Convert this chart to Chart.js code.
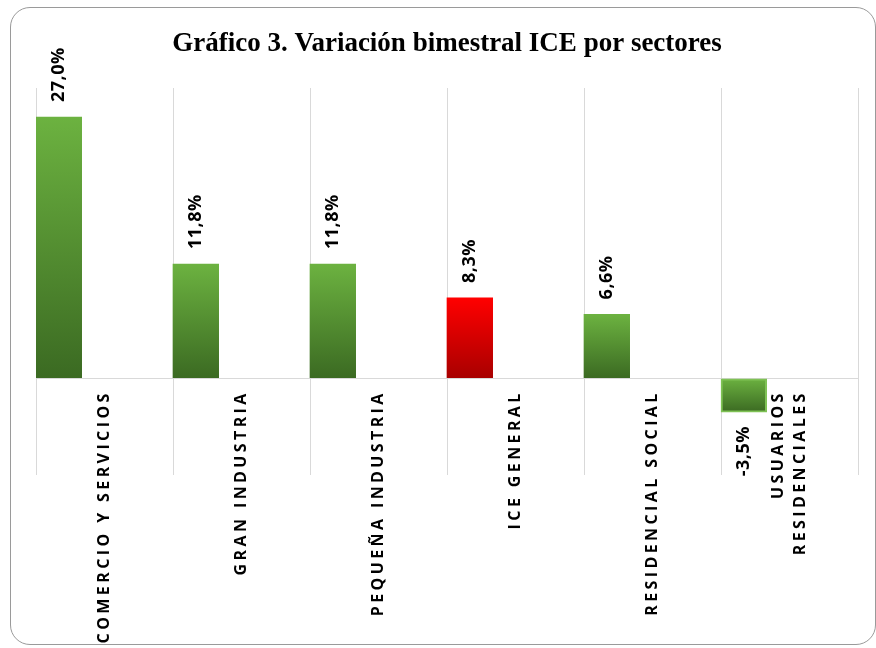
<!DOCTYPE html>
<html>
<head>
<meta charset="utf-8">
<script src="https://cdn.jsdelivr.net/npm/chart.js@4.4.0/dist/chart.umd.min.js"></script>
<style>
    html, body { margin: 0; padding: 0; background: #fff; }
    #wrap { position: relative; width: 876px; height: 648px; overflow: hidden; }
    #frame {
        position: absolute; left: 10px; top: 7px; width: 866px; height: 638px;
        border: 1px solid #9a9a9a; border-radius: 20px; box-sizing: border-box;
    }
    canvas { position: absolute; left: 0; top: 0; }
</style>
</head>
<body>
<div id="wrap">
    <div id="frame"></div>
    <canvas id="chart" width="876" height="648"></canvas>
</div>
<script>
// Data
const categories = [
    ['COMERCIO Y SERVICIOS'],
    ['GRAN INDUSTRIA'],
    ['PEQUEÑA INDUSTRIA'],
    ['ICE GENERAL'],
    ['RESIDENCIAL SOCIAL'],
    ['USUARIOS', 'RESIDENCIALES']
];
const variation = [27.0, 11.8, 11.8, 8.3, 6.6, -3.5];
const valueLabels = ['27,0%', '11,8%', '11,8%', '8,3%', '6,6%', '-3,5%'];
const highlight = [false, false, false, true, false, false];

const chartTitle = 'Gráfico 3. Variación bimestral ICE por sectores';

// vertical gradient per bar: light at top, dark at bottom
function barFill(context) {
    const chart = context.chart;
    const yScale = chart.scales.y;
    const i = context.dataIndex;
    const fallback = highlight[i] ? '#e00000' : '#5b9a35';
    if (!chart.chartArea || !yScale || i === undefined) return fallback;
    const v = variation[i];
    const top = yScale.getPixelForValue(Math.max(v, 0));
    const bottom = yScale.getPixelForValue(Math.min(v, 0));
    if (!isFinite(top) || !isFinite(bottom) || bottom - top < 1) return fallback;
    const g = chart.ctx.createLinearGradient(0, top, 0, bottom);
    if (highlight[i]) {
        g.addColorStop(0, '#ff0000');
        g.addColorStop(1, '#a80000');
    } else {
        g.addColorStop(0, '#6cb240');
        g.addColorStop(1, '#3b6a22');
    }
    return g;
}

// category labels under the zero line + rotated value labels
const labelsPlugin = {
    id: 'rotatedLabels',
    afterDatasetsDraw(chart) {
        const ctx = chart.ctx;
        const x = chart.scales.x;
        const y = chart.scales.y;
        const zero = y.getPixelForValue(0);
        const bars = chart.getDatasetMeta(0).data;

        ctx.save();
        ctx.fillStyle = '#000';
        ctx.textBaseline = 'middle';

        // value labels
        ctx.font = 'bold 18px "Open Sans", sans-serif';
        ctx.letterSpacing = '0.5px';
        bars.forEach((bar, i) => {
            const v = variation[i];
            ctx.save();
            if (v >= 0) {
                ctx.translate(bar.x, bar.y - 15);
                ctx.rotate(-Math.PI / 2);
                ctx.textAlign = 'left';
            } else {
                ctx.translate(bar.x, bar.y + 14);
                ctx.rotate(-Math.PI / 2);
                ctx.textAlign = 'right';
            }
            ctx.fillText(valueLabels[i], 0, 0);
            ctx.restore();
        });

        // category labels
        ctx.font = 'bold 16px "Open Sans", sans-serif';
        ctx.letterSpacing = '3.4px';
        categories.forEach((lines, i) => {
            const cx = x.getPixelForValue(i);
            const lineH = 22;
            lines.forEach((line, j) => {
                const lx = cx + (j - (lines.length - 1) / 2) * lineH;
                ctx.save();
                ctx.translate(lx, zero + 12);
                ctx.rotate(-Math.PI / 2);
                ctx.textAlign = 'right';
                ctx.fillText(line, 0, 0);
                ctx.restore();
            });
        });
        ctx.restore();
    }
};

const ctx = document.getElementById('chart').getContext('2d');
new Chart(ctx, {
    type: 'bar',
    data: {
        labels: categories.map(c => c.join(' ')),
        datasets: [
            {
                data: variation,
                backgroundColor: barFill,
                borderColor: variation.map(v => v < 0 ? '#7fc255' : 'rgba(0,0,0,0)'),
                borderWidth: variation.map(v => v < 0 ? 2 : 0),
                borderSkipped: false,
                barPercentage: 1,
                categoryPercentage: 1
            },
            // empty slots so the bar sits at the left of each category
            { data: variation.map(() => null), barPercentage: 1, categoryPercentage: 1 },
            { data: variation.map(() => null), barPercentage: 1, categoryPercentage: 1 }
        ]
    },
    options: {
        responsive: false,
        animation: false,
        layout: { padding: { left: 36, right: 18, top: 88, bottom: 173 } },
        plugins: {
            legend: { display: false },
            tooltip: { enabled: false },
            title: { display: false }
        },
        scales: {
            x: {
                offset: true,
                grid: { offset: true, color: '#d9d9d9', lineWidth: 1, drawTicks: false },
                border: { display: false },
                ticks: { display: false }
            },
            y: {
                min: -10,
                max: 30,
                ticks: { display: false, stepSize: 10 },
                grid: {
                    drawTicks: false,
                    color: c => c.tick && c.tick.value === 0 ? '#d9d9d9' : 'rgba(0,0,0,0)'
                },
                border: { display: false }
            }
        }
    },
    plugins: [labelsPlugin, {
        id: 'title',
        afterDraw(chart) {
            const c = chart.ctx;
            c.save();
            c.font = 'bold 27px "Liberation Serif", "Times New Roman", serif';
            c.fillStyle = '#000';
            c.textAlign = 'center';
            c.textBaseline = 'middle';
            c.fillText(chartTitle, 447, 44);
            c.restore();
        }
    }]
});
</script>
</body>
</html>
